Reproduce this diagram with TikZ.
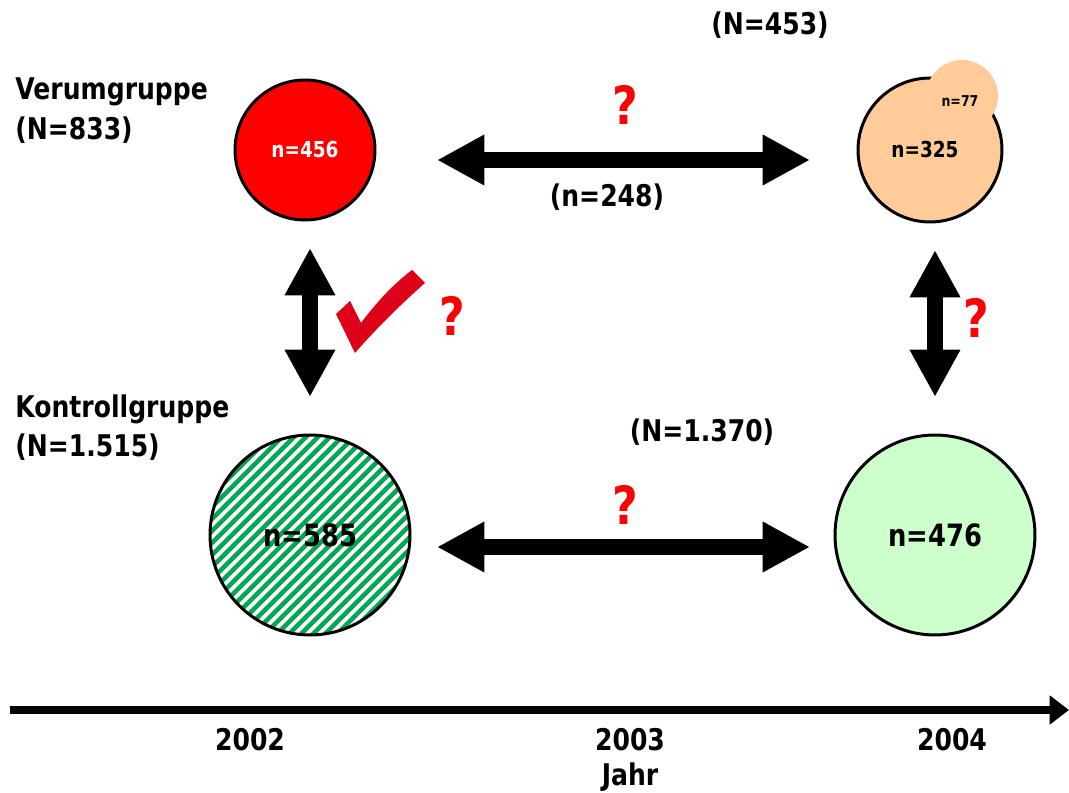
\documentclass[tikz,border=0pt]{standalone}
\usepackage{fontspec}
\setmainfont{DejaVu Sans}[FakeStretch=0.84]
\usepackage{tikz}
\usetikzlibrary{arrows.meta, calc}

\definecolor{peach}{HTML}{FFCC99}
\definecolor{lightgreen}{HTML}{CCFFCC}
\definecolor{stripegreen}{HTML}{00A651}
\definecolor{checkred}{HTML}{DD0018}

\begin{document}
\begin{tikzpicture} [x=0.02cm, y=-0.02cm,
	grp/.style={circle, draw, line width=1.7pt, inner sep=0pt},
	lbl/.style={font=\fontsize{17}{22.7}\selectfont\bfseries},
	small/.style={font=\fontsize{12.5}{14}\selectfont\bfseries},
	big/.style={font=\fontsize{17.5}{20}\selectfont\bfseries},
	quest/.style={text=red, font=\fontsize{30}{30}\selectfont\bfseries},
	dblarrow/.style={line width=9pt,
		{Triangle[length=27pt, width=27pt]}-{Triangle[length=27pt, width=27pt]}}]
	%    frame of the slide
	\useasboundingbox (0,0) rectangle (1069,793);
	
	% groups 2002 / 2004
	\node[grp, fill=red, minimum size=2.8cm, small, text=white] (verumA) at (305,150) {n=456};
	\node[grp, fill=peach, minimum size=2.88cm] (verumB) at (930,150) {};
	\fill[peach] (962,96) circle (36);
	\node[font=\fontsize{8.5}{9}\selectfont\bfseries] (dropout) at (960,101) {n=77};
	\node[small] (verumBn) at (925,150) {n=325};
	
	\node[grp, fill=stripegreen, minimum size=4cm, big,
	path picture={
		\foreach \d in {-252,-240,...,252}
		\draw[white, line width=2.1pt]
		($(path picture bounding box.center)+(\d-130,130)$) -- ++(260,-260);
	}] (kontrA) at (310,535) {n=585};
	\node[grp, fill=lightgreen, minimum size=4cm, big] (kontrB) at (935,535) {n=476};
	
	% arrows between the groups
	\coordinate (topL) at (437,160);
	\coordinate (topR) at (810,160);
	\coordinate (botL) at (437,547);
	\coordinate (botR) at (810,547);
	\coordinate (leftT) at (310,248);
	\coordinate (leftB) at (310,397);
	\coordinate (rightT) at (935,250);
	\coordinate (rightB) at (935,397);
	\draw[dblarrow] (topL) -- (topR);
	\draw[dblarrow] (botL) -- (botR);
	\draw[dblarrow] (leftT) -- (leftB);
	\draw[dblarrow] (rightT) -- (rightB);
	
	\node[quest] (qtop) at (625,105) {?};
	\node[quest] (qleft) at (452,316) {?};
	\node[quest] (qright) at (976,318) {?};
	\node[quest] (qbot) at (625,505) {?};
	
	\fill[checkred] (336,314) -- (350,301) -- (361,323)
	.. controls (380,298) and (395,283) .. (412,270)
	-- (425,283) .. controls (400,305) and (375,330) .. (355,353) -- cycle;
	
	% labels
	\node[lbl, anchor=north west, align=left, inner sep=0pt] (verumlbl) at (15,77) {Verumgruppe\\(N=833)};
	\node[lbl, anchor=north west, align=left, inner sep=0pt] (kontrlbl) at (15,394) {Kontrollgruppe\\(N=1.515)};
	\node[lbl] (nverum) at (770,25) {(N=453)};
	\node[lbl] (nboth) at (607,197) {(n=248)};
	\node[lbl] (nkontr) at (702,432) {(N=1.370)};
	
	% time axis
	\coordinate (tstart) at (10,710);
	\coordinate (tend) at (1069,710);
	\draw[line width=4.5pt, -{Triangle[length=11pt, width=16pt]}] (tstart) -- (tend);
	\node[lbl] (y2002) at (250,740) {2002};
	\node[lbl] (y2003) at (630,740) {2003};
	\node[lbl] (y2004) at (952,740) {2004};
	\node[lbl] (jahr) at (630,777) {Jahr};
	
\end{tikzpicture}
\end{document}
